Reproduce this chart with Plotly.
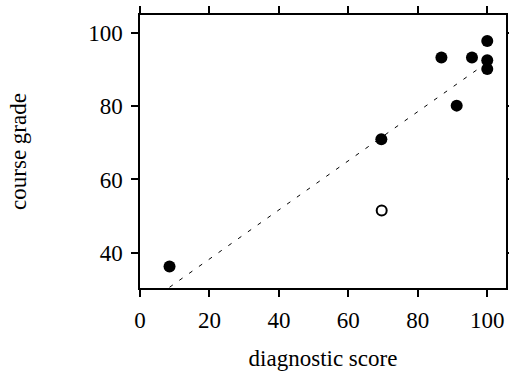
import plotly.graph_objects as go

# filled points (diagnostic score, course grade)
diag_filled = [8.5, 69.5, 86.8, 95.6, 100, 100, 100, 91.2]
grade_filled = [36.2, 71.0, 93.4, 93.4, 97.9, 92.6, 90.2, 80.2]

# open (outlier) point
diag_open = [69.6]
grade_open = [51.5]

# fitted line endpoints
fit_x = [8.5, 100]
fit_y = [30.5, 92.0]

x_ticks = [0, 20, 40, 60, 80, 100]
y_ticks = [40, 60, 80, 100]
x_range = [0, 105.4]
y_range = [30.3, 105]

FONT = "Liberation Serif"

fig = go.Figure()
fig.add_trace(go.Scatter(x=fit_x, y=fit_y, mode="lines",
                         line=dict(color="black", width=1, dash="4px,8px"),
                         showlegend=False, hoverinfo="skip"))
fig.add_trace(go.Scatter(x=diag_filled, y=grade_filled, mode="markers",
                         marker=dict(color="black", size=12, line=dict(width=0)),
                         showlegend=False))
fig.add_trace(go.Scatter(x=diag_open, y=grade_open, mode="markers",
                         marker=dict(color="white", size=10,
                                     line=dict(color="black", width=2)),
                         showlegend=False))

axis_common = dict(showgrid=False, zeroline=False, showline=True, linecolor="black",
                   linewidth=1.5, ticks="outside", ticklen=7, mirror="ticks",
                   tickwidth=1.5, tickcolor="black", automargin=False,
                   tickfont=dict(family=FONT, size=23, color="black"))

fig.update_layout(
    xaxis=dict(range=x_range, tickvals=x_ticks, ticklabelstandoff=4,
               title=dict(text="diagnostic score",
                          font=dict(family=FONT, size=23, color="black"), standoff=18),
               **axis_common),
    yaxis=dict(range=y_range, tickvals=y_ticks, ticklabelstandoff=4,
               title=dict(text="course grade",
                          font=dict(family=FONT, size=23, color="black"), standoff=55),
               **axis_common),
    width=509, height=375, margin=dict(l=140, r=3, t=15, b=87),
    plot_bgcolor="white", paper_bgcolor="white",
    font=dict(family=FONT, color="black"))

fig.write_html("out.html", config={"displayModeBar": False},
               post_script="document.body.style.margin='0';document.body.style.padding='0';document.body.style.overflow='hidden';")
